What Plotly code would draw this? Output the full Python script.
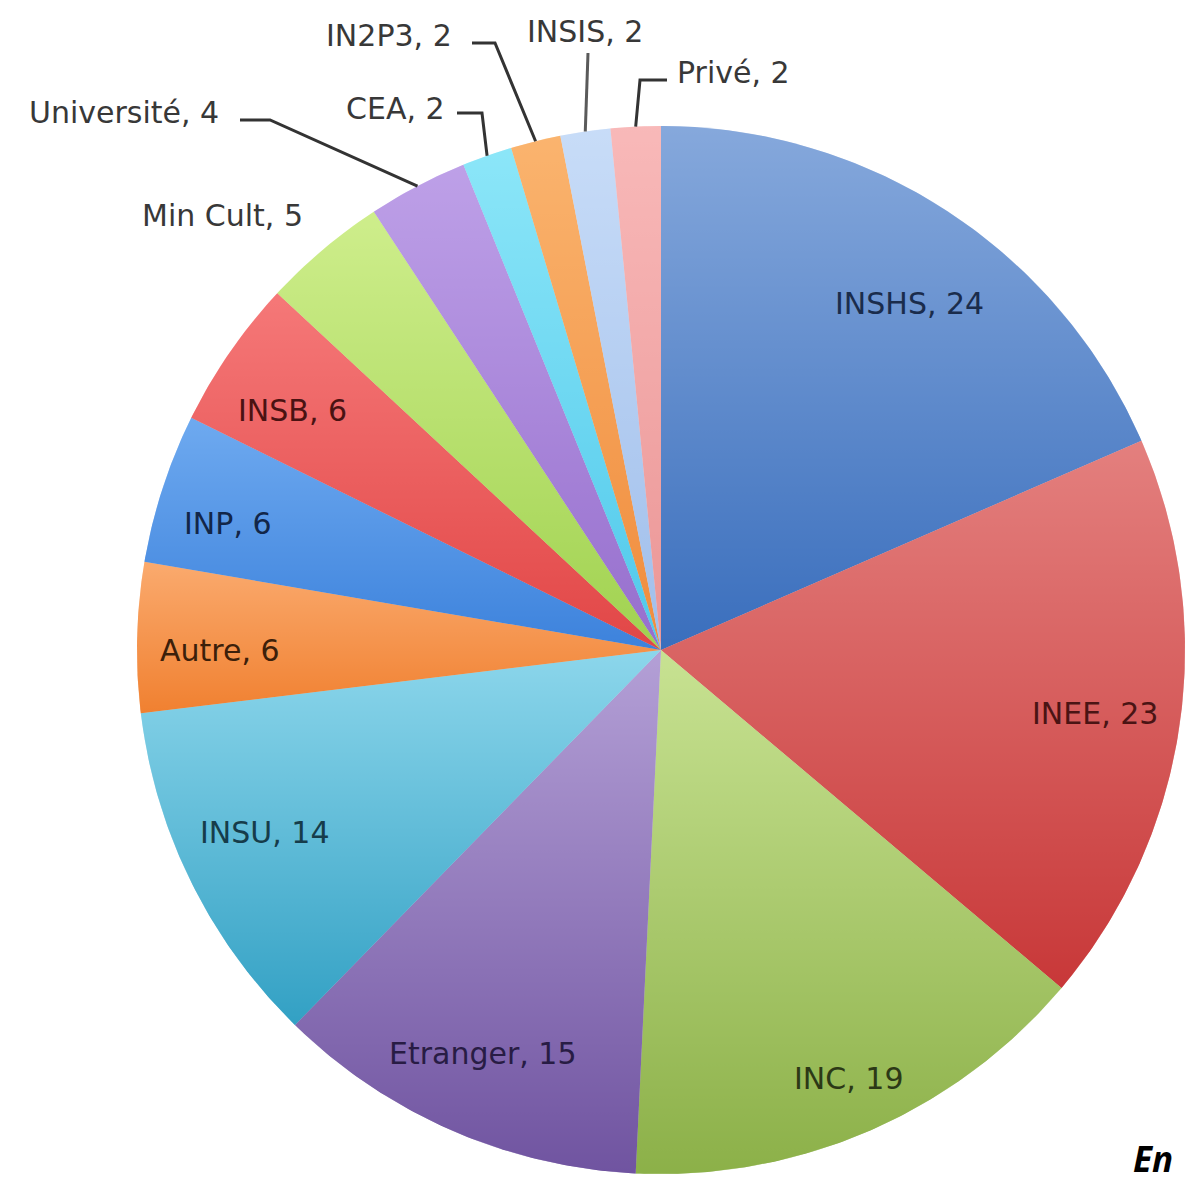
import math
import plotly.graph_objects as go

# ---------------- data ----------------
labels = ["INSHS", "INEE", "INC", "Etranger", "INSU", "Autre", "INP", "INSB",
          "Min Cult", "Université", "CEA", "IN2P3", "INSIS", "Privé"]
values = [24, 23, 19, 15, 14, 6, 6, 6, 5, 4, 2, 2, 2, 2]

# ---------------- styles ----------------
# lighter (top) and darker (bottom) tone of every slice's gradient
top_colors = ["#86a8dc", "#e4807e", "#c8e292", "#b4a0d6", "#8cd6ec", "#faaa6e",
              "#6eaaf0", "#f57878", "#ceee8c", "#bea0e8", "#8ce6fa", "#fcb46e",
              "#c8dcf8", "#fab9b9"]
bottom_colors = ["#3a6ebd", "#c83838", "#8cb048", "#7054a0", "#32a0c4", "#f08030",
                 "#3c82dc", "#e14646", "#a0d250", "#966ecd", "#50c8eb", "#f08c3c",
                 "#a0beeb", "#eb9696"]
text_colors = ["#1a2c4c", "#4a1414", "#2c3816", "#281c44", "#163c4a", "#3c200a",
               "#122648", "#4a1212", "#383838", "#383838", "#383838", "#383838",
               "#383838", "#383838"]
PIE_ALPHA = 0.5

W, H = 1185, 1184
CX, CY, R = 661, 650, 524

# label anchor positions in pixels (layout, not data)
label_pos = {
    "INSHS": (910, 303), "INEE": (1095, 713), "INC": (848, 1078),
    "Etranger": (483, 1053), "INSU": (265, 832), "Autre": (220, 651),
    "INP": (228, 523), "INSB": (292, 410), "Min Cult": (222, 215),
    "Université": (124, 112), "CEA": (395, 108), "IN2P3": (389, 36),
    "INSIS": (585, 32), "Privé": (733, 72),
}
# elbow points of the leader lines (pixels); line ends on slice edge
leader_elbows = {
    "Université": [(240, 120), (270, 120)],
    "CEA": [(457, 113), (482, 113)],
    "IN2P3": [(472, 43), (495, 43)],
    "INSIS": [(588, 53)],
    "Privé": [(667, 80), (640, 80)],
}


def px(x):
    return x / W


def py(y):
    return 1 - y / H


def hex2rgb(h):
    h = h.lstrip("#")
    return [int(h[i:i + 2], 16) for i in (0, 2, 4)]


def clamp(v):
    return max(0, min(255, int(round(v))))


def rgb(c, a=None):
    c = [clamp(v) for v in c]
    if a is None:
        return f"rgb({c[0]},{c[1]},{c[2]})"
    return f"rgba({c[0]},{c[1]},{c[2]},{a})"


fig = go.Figure()

total = sum(values)
mid_colors = []
cum = 0
for lab, val, tc, bc in zip(labels, values, top_colors, bottom_colors):
    T, B = hex2rgb(tc), hex2rgb(bc)
    M = [(t + b) / 2 for t, b in zip(T, B)]
    mid_colors.append(rgb(M, PIE_ALPHA))
    # shading layer under the semi-transparent slice
    g_top = [(t - PIE_ALPHA * m) / (1 - PIE_ALPHA) for t, m in zip(T, M)]
    g_bot = [(b - PIE_ALPHA * m) / (1 - PIE_ALPHA) for b, m in zip(B, M)]
    a0 = cum / total * 2 * math.pi
    a1 = (cum + val) / total * 2 * math.pi
    cum += val
    k = max(4, int(val * 6))
    xs = [CX] + [CX + R * math.sin(a0 + (a1 - a0) * i / k) for i in range(k + 1)] + [CX]
    ys = [CY] + [CY - R * math.cos(a0 + (a1 - a0) * i / k) for i in range(k + 1)] + [CY]
    fig.add_trace(go.Scatter(
        x=xs, y=ys, mode="lines", line=dict(width=0), fill="toself",
        fillgradient=dict(type="vertical", start=min(ys), stop=max(ys),
                          colorscale=[[0, rgb(g_top)], [1, rgb(g_bot)]]),
        hoverinfo="skip", showlegend=False,
    ))

fig.add_trace(go.Pie(
    labels=labels, values=values, sort=False, direction="clockwise", rotation=0,
    marker=dict(colors=mid_colors, line=dict(width=0)),
    textinfo="none", hoverinfo="label+value", showlegend=False,
    domain=dict(x=[(CX - R) / W, 1.0], y=[(H - CY - R) / H, (H - CY + R) / H]),
))

annotations = []
for lab, val, tc in zip(labels, values, text_colors):
    x, y = label_pos[lab]
    annotations.append(dict(
        x=px(x), y=py(y), xref="paper", yref="paper", showarrow=False,
        text=f"{lab}, {val}", xanchor="center", yanchor="middle",
        font=dict(family="DejaVu Sans", size=30, color=tc),
    ))

annotations.append(dict(
    x=px(1131), y=0, xref="paper", yref="paper", showarrow=False,
    text="<b><i>En</i></b>", xanchor="left", yanchor="bottom",
    font=dict(family="Open Sans", size=35, color="#000000"),
))

cum = 0
shapes = []
for lab, val in zip(labels, values):
    mid = (cum + val / 2) / total * 2 * math.pi
    cum += val
    if lab not in leader_elbows:
        continue
    ex = CX + R * math.sin(mid)
    ey = CY - R * math.cos(mid)
    pts = leader_elbows[lab] + [(ex, ey)]
    path = "M " + " L ".join(f"{px(a):.5f} {py(b):.5f}" for a, b in pts)
    col = "#5a5a5a" if lab == "INSIS" else "#333333"
    shapes.append(dict(type="path", path=path, xref="paper", yref="paper",
                       line=dict(color=col, width=3)))

fig.update_layout(
    width=W, height=H, margin=dict(l=0, r=0, t=0, b=0),
    paper_bgcolor="white", plot_bgcolor="white",
    xaxis=dict(range=[0, W], visible=False, domain=[0, 1], fixedrange=True),
    yaxis=dict(range=[H, 0], visible=False, domain=[0, 1], fixedrange=True),
    annotations=annotations, shapes=shapes,
)

fig.write_html("out.html", config={"displayModeBar": False},
               post_script="document.body.style.margin='0px';")
